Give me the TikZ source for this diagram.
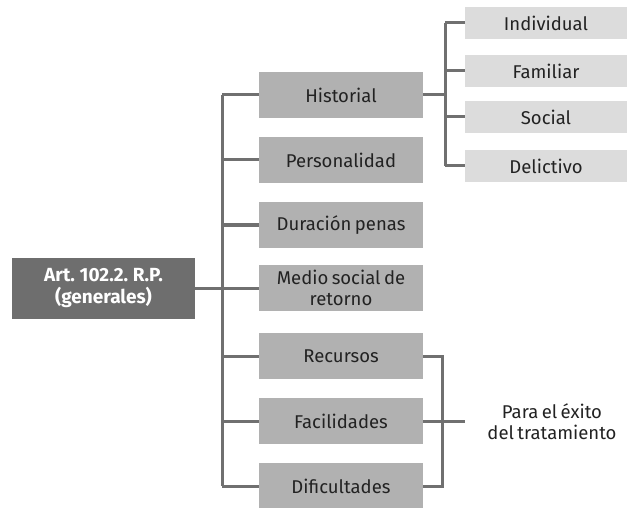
\documentclass[tikz,border=0pt]{standalone}
\usepackage{fontspec}
\setmainfont{Fira Sans}[WordSpace={0.7,0.5,0.5}]
\usepackage{tikz}
\usetikzlibrary{calc,positioning}
\definecolor{rootGray}{RGB}{110,110,110}
\definecolor{midGray}{RGB}{177,177,177}
\definecolor{lightGray}{RGB}{220,220,220}
\definecolor{lineGray}{RGB}{112,112,112}
\definecolor{txtGray}{RGB}{34,34,34}

\begin{document}
\begin{tikzpicture}[x=1pt,y=-1pt,
    rootbox/.style={fill=rootGray, text=white, font=\fontsize{19}{22}\selectfont\bfseries,
        minimum width=183pt, minimum height=61pt, align=center, inner sep=0pt},
    midbox/.style={fill=midGray, text=txtGray, font=\fontsize{18.5}{21}\selectfont,
        minimum width=164pt, minimum height=46pt, align=center, inner sep=0pt},
    subbox/.style={fill=lightGray, text=txtGray, font=\fontsize{18.5}{21}\selectfont,
        minimum width=162pt, minimum height=32pt, inner sep=0pt},
    link/.style={lineGray, line width=3pt}]
    \useasboundingbox (0,0) rectangle (627,508);

    % root
    \node[rootbox] (root) at (103.5,288) {Art. 102.2. R.P.\\(generales)};

    % middle column
    \node[midbox] (hist) at (341,95) {Historial};
    \node[midbox] (pers) at (341,160) {Personalidad};
    \node[midbox] (dur)  at (341,225) {Duración penas};
    \node[midbox] (medio) at (341,288) {Medio social de\\retorno};
    \node[midbox] (rec) at (341,356) {Recursos};
    \node[midbox] (fac) at (341,421) {Facilidades};
    \node[midbox] (dif) at (341,486) {Dificultades};

    % right column
    \node[subbox] (indiv) at (546,23) {Individual};
    \node[subbox] (fam) at (546,71) {Familiar};
    \node[subbox] (soc) at (546,117) {Social};
    \node[subbox] (delic) at (546,166) {Delictivo};

    % goal label
    \node[text=txtGray, font=\fontsize{18.5}{21}\selectfont, align=center] (goal) at (552,422)
        {Para el éxito\\del tratamiento};

    % trunk
    \coordinate (tr) at (222,288);
    \draw[link] (root.east) -- (tr);
    \draw[link] (tr |- hist) -- (tr |- dif);
    \foreach \n in {hist,pers,dur,medio,rec,fac,dif}
        \draw[link] (tr |- \n) -- (\n.west);

    % branches of Historial
    \coordinate (hb) at (445,95);
    \draw[link] (hist.east) -- (hb);
    \draw[link] (hb |- indiv) -- (hb |- delic);
    \foreach \n in {indiv,fam,soc,delic}
        \draw[link] (hb |- \n) -- (\n.west);

    % bracket to goal
    \coordinate (gb) at (442,421);
    \draw[link] (rec.east) -- (gb |- rec) -- (gb |- dif) -- (dif.east);
    \draw[link] (fac.east) -- (gb) -- (465,421);
\end{tikzpicture}
\end{document}
